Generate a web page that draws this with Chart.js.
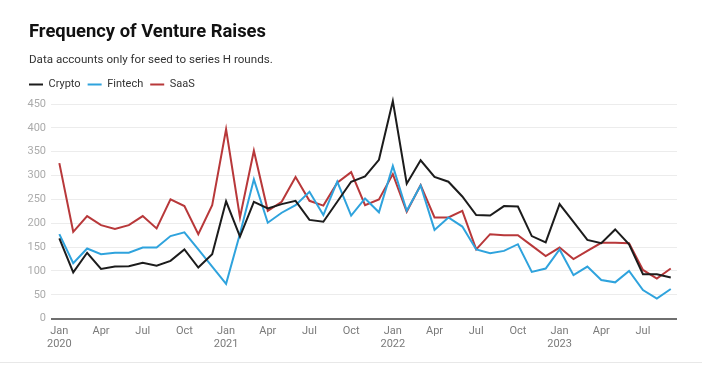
<!DOCTYPE html>
<html>
<head>
<meta charset="utf-8">
<script src="https://cdn.jsdelivr.net/npm/chart.js@4.4.1/dist/chart.umd.min.js"></script>
<style>
    html, body { margin: 0; padding: 0; background: #fff; }
    .wrap { position: relative; width: 702px; height: 365px; font-family: Roboto, "Noto Sans", sans-serif; }
    .wrap canvas { position: absolute; left: 0; top: 0; }
    .title { position: absolute; left: 29px; top: 20px; font-size: 18.4px; line-height: 22px; font-weight: 700; color: #111; }
    .sub { position: absolute; left: 29px; top: 51px; font-size: 11.6px; line-height: 16px; color: #333; }
    .rule { position: absolute; left: 0; top: 362px; width: 702px; height: 1px; background: #e8e8e8; }
</style>
</head>
<body>
<div class="wrap">
    <canvas id="chart" width="702" height="365"></canvas>
    <div class="title">Frequency of Venture Raises</div>
    <div class="sub">Data accounts only for seed to series H rounds.</div>
    <div class="rule"></div>
</div>
<script>
// monthly, Jan 2020 - Sep 2023
const months = [
    "Jan 2020", "Feb 2020", "Mar 2020", "Apr 2020", "May 2020", "Jun 2020", "Jul 2020", "Aug 2020", "Sep 2020", "Oct 2020", "Nov 2020", "Dec 2020",
    "Jan 2021", "Feb 2021", "Mar 2021", "Apr 2021", "May 2021", "Jun 2021", "Jul 2021", "Aug 2021", "Sep 2021", "Oct 2021", "Nov 2021", "Dec 2021",
    "Jan 2022", "Feb 2022", "Mar 2022", "Apr 2022", "May 2022", "Jun 2022", "Jul 2022", "Aug 2022", "Sep 2022", "Oct 2022", "Nov 2022", "Dec 2022",
    "Jan 2023", "Feb 2023", "Mar 2023", "Apr 2023", "May 2023", "Jun 2023", "Jul 2023", "Aug 2023", "Sep 2023"
];

const crypto = [
    168, 97, 138, 104, 109, 110, 117, 111, 121, 145, 107, 135,
    246, 172, 245, 231, 240, 247, 207, 203, 245, 287, 298, 333,
    456, 283, 332, 297, 287, 256, 217, 216, 236, 235, 173, 160,
    240, 203, 165, 158, 187, 156, 93, 93, 86
];
const fintech = [
    177, 116, 147, 135, 138, 138, 149, 149, 173, 181, 145, 109,
    73, 178, 292, 201, 222, 238, 266, 217, 287, 216, 252, 223,
    320, 226, 279, 186, 212, 193, 145, 137, 142, 156, 98, 105,
    145, 91, 109, 81, 76, 100, 60, 42, 62
];
const saas = [
    326, 182, 215, 196, 188, 196, 215, 189, 250, 236, 177, 238,
    397, 212, 352, 226, 245, 297, 247, 237, 285, 307, 238, 250,
    303, 224, 280, 212, 212, 226, 145, 177, 175, 175, 153, 131,
    149, 125, 142, 159, 159, 158, 102, 84, 105
];

const yTicks = [0, 50, 100, 150, 200, 250, 300, 350, 400, 450];
const xTickMonths = ["Jan", "Apr", "Jul", "Oct"];

function points(arr) {
    return arr.map((v, i) => ({ x: i, y: v }));
}

// extra room under the legend
const legendGap = {
    id: "legendGap",
    beforeInit(chart) {
        const fit = chart.legend.fit;
        chart.legend.fit = function () {
            fit.bind(chart.legend)();
            this.height += 4;
        };
    }
};

const ctx = document.getElementById("chart").getContext("2d");
new Chart(ctx, {
    type: "line",
    data: {
        datasets: [
            { label: "Crypto", data: points(crypto), borderColor: "#1c1c1c", backgroundColor: "#1c1c1c" },
            { label: "Fintech", data: points(fintech), borderColor: "#2fa3dd", backgroundColor: "#2fa3dd" },
            { label: "SaaS", data: points(saas), borderColor: "#b8383a", backgroundColor: "#b8383a" }
        ]
    },
    options: {
        responsive: false,
        animation: false,
        clip: false,
        layout: { padding: { top: 72, left: 22, right: 25, bottom: 8 } },
        elements: {
            line: { borderWidth: 2, tension: 0 },
            point: { radius: 0 }
        },
        plugins: {
            legend: {
                position: "top",
                align: "start",
                labels: {
                    boxWidth: 14,
                    boxHeight: 0,
                    padding: 7,
                    color: "#333",
                    font: { family: "Roboto", size: 11 }
                }
            },
            tooltip: { enabled: false }
        },
        scales: {
            x: {
                type: "linear",
                min: -0.6,
                max: 44.45,
                grid: { display: false, drawTicks: false },
                border: { display: false },
                ticks: {
                    stepSize: 3,
                    includeBounds: false,
                    autoSkip: false,
                    maxRotation: 0,
                    padding: 6,
                    color: "#7a7a7a",
                    font: { family: "Roboto", size: 11 },
                    callback: function (value) {
                        const label = months[value];
                        if (!label) return "";
                        const [m, y] = label.split(" ");
                        if (!xTickMonths.includes(m)) return "";
                        return m === "Jan" ? [m, y] : m;
                    }
                }
            },
            y: {
                min: 0,
                max: 450,
                afterFit: s => { s.width = 29; },
                afterBuildTicks: s => { s.ticks = yTicks.map(v => ({ value: v })); },
                grid: {
                    drawTicks: false,
                    color: c => c.tick && c.tick.value === 0 ? "#6f6f6f" : "#ececec",
                    lineWidth: c => c.tick && c.tick.value === 0 ? 2 : 1
                },
                border: { display: false },
                ticks: {
                    padding: 5,
                    color: "#ababab",
                    font: { family: "Roboto", size: 11 }
                }
            }
        }
    },
    plugins: [legendGap]
});
</script>
</body>
</html>
